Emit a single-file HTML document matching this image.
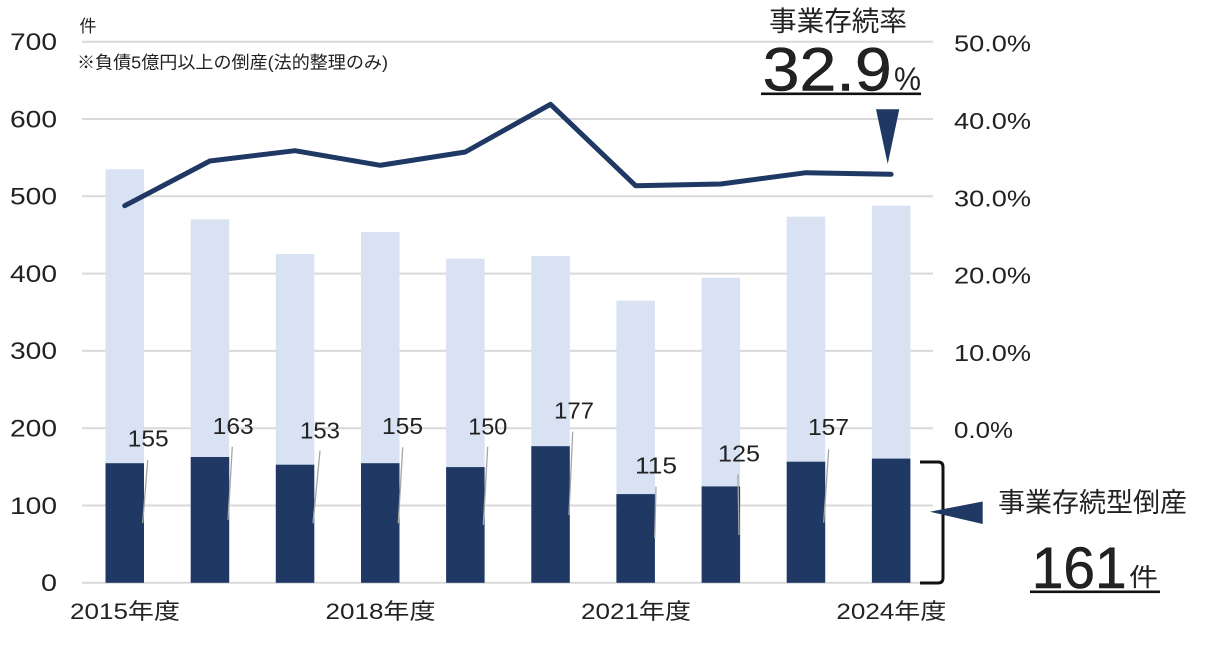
<!DOCTYPE html>
<html>
<head>
<meta charset="utf-8">
<style>
  html,body{margin:0;padding:0;background:#fff;}
  svg{display:block;}
  text{font-family:"Liberation Sans","Noto Sans CJK JP",sans-serif;fill:#222;}
</style>
</head>
<body>
<svg width="1207" height="646" viewBox="0 0 1207 646" xmlns="http://www.w3.org/2000/svg">
  <!-- gridlines -->
  <g stroke="#d9d9d9" stroke-width="2">
    <line x1="82" y1="41.7" x2="933" y2="41.7"/>
    <line x1="82" y1="119" x2="933" y2="119"/>
    <line x1="82" y1="196.3" x2="933" y2="196.3"/>
    <line x1="82" y1="273.6" x2="933" y2="273.6"/>
    <line x1="82" y1="350.9" x2="933" y2="350.9"/>
    <line x1="82" y1="428.2" x2="933" y2="428.2"/>
    <line x1="82" y1="505.5" x2="933" y2="505.5"/>
    <line x1="82" y1="582.8" x2="933" y2="582.8"/>
  </g>

  <!-- light bars (total) -->
  <g fill="#d9e2f3">
    <rect x="105.5" y="169.3" width="38.5" height="413.5"/>
    <rect x="190.7" y="219.3" width="38.5" height="363.5"/>
    <rect x="275.8" y="254" width="38.5" height="328.8"/>
    <rect x="361" y="232" width="38.5" height="350.8"/>
    <rect x="446.1" y="258.7" width="38.5" height="324.1"/>
    <rect x="531.3" y="255.9" width="38.5" height="326.9"/>
    <rect x="616.4" y="300.7" width="38.5" height="282.1"/>
    <rect x="701.6" y="277.7" width="38.5" height="305.1"/>
    <rect x="786.7" y="216.7" width="38.5" height="366.1"/>
    <rect x="871.9" y="205.7" width="38.5" height="377.1"/>
  </g>

  <!-- dark bars -->
  <g fill="#1f3864">
    <rect x="105.5" y="463.2" width="38.5" height="119.6"/>
    <rect x="190.7" y="457" width="38.5" height="125.8"/>
    <rect x="275.8" y="464.7" width="38.5" height="118.1"/>
    <rect x="361" y="463.2" width="38.5" height="119.6"/>
    <rect x="446.1" y="467.1" width="38.5" height="115.7"/>
    <rect x="531.3" y="446.2" width="38.5" height="136.6"/>
    <rect x="616.4" y="494.1" width="38.5" height="88.7"/>
    <rect x="701.6" y="486.4" width="38.5" height="96.4"/>
    <rect x="786.7" y="461.7" width="38.5" height="121.1"/>
    <rect x="871.9" y="458.6" width="38.5" height="124.2"/>
  </g>

  <!-- leader lines -->
  <g stroke="#a6a6a6" stroke-width="1.3">
    <line x1="147.7" y1="460" x2="142.7" y2="523"/>
    <line x1="232.3" y1="446.7" x2="228" y2="520"/>
    <line x1="320" y1="450.7" x2="313" y2="523.3"/>
    <line x1="402.7" y1="447.3" x2="398.3" y2="523.3"/>
    <line x1="487.7" y1="446.7" x2="483.3" y2="525"/>
    <line x1="572.7" y1="431.7" x2="569" y2="515"/>
    <line x1="656" y1="486.7" x2="654.7" y2="538"/>
    <line x1="738" y1="474.3" x2="739" y2="535"/>
    <line x1="828.7" y1="449.3" x2="823.7" y2="522.7"/>
  </g>

  <!-- data labels -->
  <g font-size="23">
    <text x="127.7" y="446.7" textLength="41" lengthAdjust="spacingAndGlyphs">155</text>
    <text x="212.7" y="434" textLength="41" lengthAdjust="spacingAndGlyphs">163</text>
    <text x="300" y="438.3" textLength="40" lengthAdjust="spacingAndGlyphs">153</text>
    <text x="382" y="434" textLength="41" lengthAdjust="spacingAndGlyphs">155</text>
    <text x="468.3" y="434.3" textLength="39" lengthAdjust="spacingAndGlyphs">150</text>
    <text x="554" y="418.3" textLength="40" lengthAdjust="spacingAndGlyphs">177</text>
    <text x="635" y="473.3" textLength="42" lengthAdjust="spacingAndGlyphs">115</text>
    <text x="718" y="461.7" textLength="42" lengthAdjust="spacingAndGlyphs">125</text>
    <text x="808" y="435" textLength="41" lengthAdjust="spacingAndGlyphs">157</text>
  </g>

  <!-- line series -->
  <polyline fill="none" stroke="#1f3864" stroke-width="5" stroke-linejoin="round" stroke-linecap="round"
    points="124.75,205.7 209.9,161 295,150.7 380.2,165.3 465.3,152 550.5,104.3 635.6,185.7 720.8,184 806,172.7 891.1,174.3"/>

  <!-- left axis labels -->
  <g font-size="24" text-anchor="end">
    <text x="57" y="50" textLength="47" lengthAdjust="spacingAndGlyphs">700</text>
    <text x="57" y="127.3" textLength="47" lengthAdjust="spacingAndGlyphs">600</text>
    <text x="57" y="204.6" textLength="47" lengthAdjust="spacingAndGlyphs">500</text>
    <text x="57" y="281.9" textLength="47" lengthAdjust="spacingAndGlyphs">400</text>
    <text x="57" y="359.2" textLength="47" lengthAdjust="spacingAndGlyphs">300</text>
    <text x="57" y="436.5" textLength="47" lengthAdjust="spacingAndGlyphs">200</text>
    <text x="57" y="513.8" textLength="47" lengthAdjust="spacingAndGlyphs">100</text>
    <text x="57" y="591.1" textLength="16" lengthAdjust="spacingAndGlyphs">0</text>
  </g>

  <!-- right axis labels -->
  <g font-size="23">
    <text x="954" y="51.7" textLength="77" lengthAdjust="spacingAndGlyphs">50.0%</text>
    <text x="954" y="129" textLength="77" lengthAdjust="spacingAndGlyphs">40.0%</text>
    <text x="954" y="206.3" textLength="77" lengthAdjust="spacingAndGlyphs">30.0%</text>
    <text x="954" y="283.6" textLength="77" lengthAdjust="spacingAndGlyphs">20.0%</text>
    <text x="954" y="360.9" textLength="77" lengthAdjust="spacingAndGlyphs">10.0%</text>
    <text x="954" y="438.2" textLength="59" lengthAdjust="spacingAndGlyphs">0.0%</text>
  </g>

  <!-- x axis labels -->
  <g font-size="22">
    <text x="70" y="619" textLength="110" lengthAdjust="spacingAndGlyphs">2015年度</text>
    <text x="325.5" y="619" textLength="110" lengthAdjust="spacingAndGlyphs">2018年度</text>
    <text x="581" y="619" textLength="110" lengthAdjust="spacingAndGlyphs">2021年度</text>
    <text x="836.4" y="619" textLength="110" lengthAdjust="spacingAndGlyphs">2024年度</text>
  </g>

  <!-- unit & note -->
  <text x="79.5" y="32" font-size="17">件</text>
  <text x="77" y="68.5" font-size="17.5" textLength="311" lengthAdjust="spacingAndGlyphs">※負債5億円以上の倒産(法的整理のみ)</text>

  <!-- top annotation -->
  <text x="769" y="30.5" font-size="27.5" textLength="138" lengthAdjust="spacingAndGlyphs" fill="#111">事業存続率</text>
  <text x="762.7" y="90.7" font-size="61" textLength="129" lengthAdjust="spacingAndGlyphs" fill="#111" stroke="#111" stroke-width="0.5">32.9</text>
  <text x="894" y="90" font-size="32" textLength="27" lengthAdjust="spacingAndGlyphs" fill="#111">%</text>
  <rect x="761" y="92.5" width="160" height="2.6" fill="#111"/>
  <polygon points="876,109.3 899.3,109.3 887.7,164" fill="#1f3864"/>

  <!-- bracket -->
  <path d="M920,462 H938 Q943,462 943,467 V578 Q943,583 938,583 H920" fill="none" stroke="#111" stroke-width="3"/>
  <polygon points="930,511.7 982.7,501.5 982.7,524" fill="#1f3864"/>

  <!-- right annotation -->
  <text x="998" y="512" font-size="27" textLength="189" lengthAdjust="spacingAndGlyphs" fill="#111">事業存続型倒産</text>
  <text x="1031.7" y="588" font-size="58" textLength="95" lengthAdjust="spacingAndGlyphs" fill="#111" stroke="#111" stroke-width="0.5">161</text>
  <text x="1129" y="586" font-size="25" textLength="29" lengthAdjust="spacingAndGlyphs" fill="#111">件</text>
  <rect x="1030" y="590.5" width="130" height="2.6" fill="#111"/>
</svg>
</body>
</html>
